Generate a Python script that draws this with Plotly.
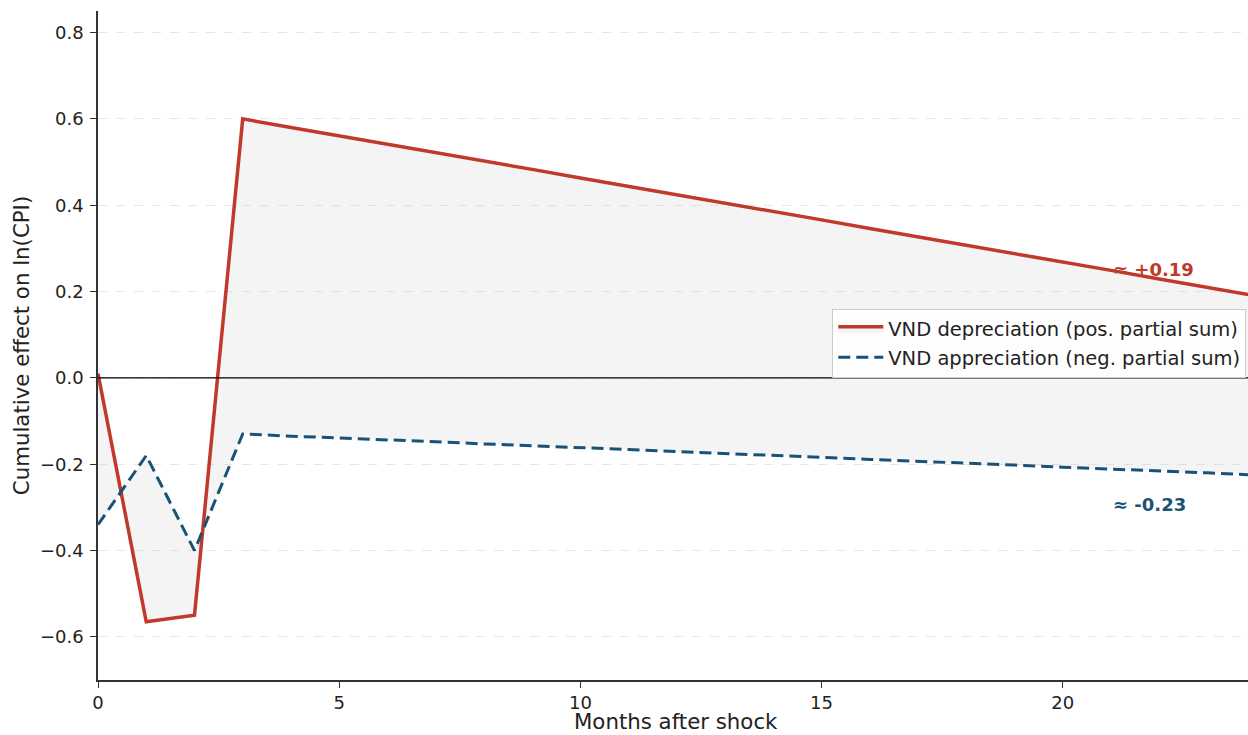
import plotly.graph_objects as go

months = list(range(0, 25))
pos_sum = [0.01, -0.565, -0.55, 0.600, 0.580, 0.561, 0.541, 0.522, 0.502, 0.483, 0.463,
           0.444, 0.424, 0.405, 0.385, 0.366, 0.346, 0.327, 0.307, 0.288, 0.268,
           0.249, 0.229, 0.210, 0.190]
neg_sum = [-0.34, -0.18, -0.40, -0.130, -0.135, -0.139, -0.144, -0.148, -0.153, -0.157, -0.162,
           -0.166, -0.171, -0.175, -0.180, -0.184, -0.189, -0.193, -0.198, -0.202, -0.207,
           -0.211, -0.216, -0.220, -0.225]
yticks = [-0.6, -0.4, -0.2, 0.0, 0.2, 0.4, 0.6, 0.8]
xticks = [0, 5, 10, 15, 20]

RED = "#c0392b"
BLUE = "#1a5276"
FONT = "DejaVu Sans"

fig = go.Figure()
fig.add_trace(go.Scatter(x=months, y=neg_sum, mode="lines", line=dict(width=0),
                         showlegend=False, hoverinfo="skip"))
fig.add_trace(go.Scatter(x=months, y=pos_sum, mode="lines", fill="tonexty",
                         fillcolor="rgba(200,200,200,0.2)",
                         line=dict(color=RED, width=3.5),
                         name="VND depreciation (pos. partial sum)"))
fig.add_trace(go.Scatter(x=months, y=neg_sum, mode="lines",
                         line=dict(color=BLUE, width=3, dash="12px,6px"),
                         name="VND appreciation (neg. partial sum)"))

fig.add_shape(type="line", xref="paper", x0=0, x1=1, yref="y", y0=0, y1=0,
              line=dict(color="black", width=1.2), layer="above")

fig.add_annotation(x=21, y=0.252, text="<b>≈ +0.19</b>", showarrow=False,
                   xanchor="left", yanchor="middle", font=dict(color=RED, size=18, family=FONT))
fig.add_annotation(x=21, y=-0.294, text="<b>≈ -0.23</b>", showarrow=False,
                   xanchor="left", yanchor="middle", font=dict(color=BLUE, size=18, family=FONT))
# x-axis title placed as annotation for exact position
fig.add_annotation(x=0.5026, y=0, xref="paper", yref="paper", text="Months after shock",
                   showarrow=False, xanchor="center", yanchor="top", yshift=-27,
                   font=dict(size=21.3, family=FONT, color="#222"))

fig.update_layout(
    width=1248, height=735,
    margin=dict(l=98, r=0, t=11, b=55),
    plot_bgcolor="white", paper_bgcolor="white",
    font=dict(family=FONT, size=18, color="#222"),
    showlegend=True,
    legend=dict(x=0.9985, y=0.452, xanchor="right", yanchor="bottom", traceorder="normal",
                bgcolor="rgba(255,255,255,0.9)", bordercolor="#cccccc", borderwidth=1,
                font=dict(size=19.5, family=FONT), tracegroupgap=0, itemwidth=45),
    xaxis=dict(range=[0, 23.84], tickvals=xticks, showgrid=False, zeroline=False,
               showline=True, linecolor="#333", linewidth=1.5, ticks="outside",
               ticklen=6, tickcolor="#333", tickfont=dict(size=18), automargin=False),
    yaxis=dict(range=[-0.7, 0.85], tickvals=yticks,
               ticktext=["−0.6", "−0.4", "−0.2", "0.0", "0.2", "0.4", "0.6", "0.8"],
               showgrid=True, gridcolor="#e6e6e6", griddash="dash", gridwidth=1,
               zeroline=False, showline=True, linecolor="#333", linewidth=1.5,
               ticks="outside", ticklen=6, tickcolor="#333", tickfont=dict(size=18),
               ticklabelstandoff=3, automargin=False,
               title=dict(text="Cumulative effect on ln(CPI)", font=dict(size=21.3), standoff=4)),
)

fig.write_html("out.html", config={"displayModeBar": False})
with open("out.html", "r", encoding="utf-8") as f:
    html = f.read()
html = html.replace("<head>", "<head><style>html,body{margin:0;padding:0;overflow:hidden;}</style>", 1)
with open("out.html", "w", encoding="utf-8") as f:
    f.write(html)
